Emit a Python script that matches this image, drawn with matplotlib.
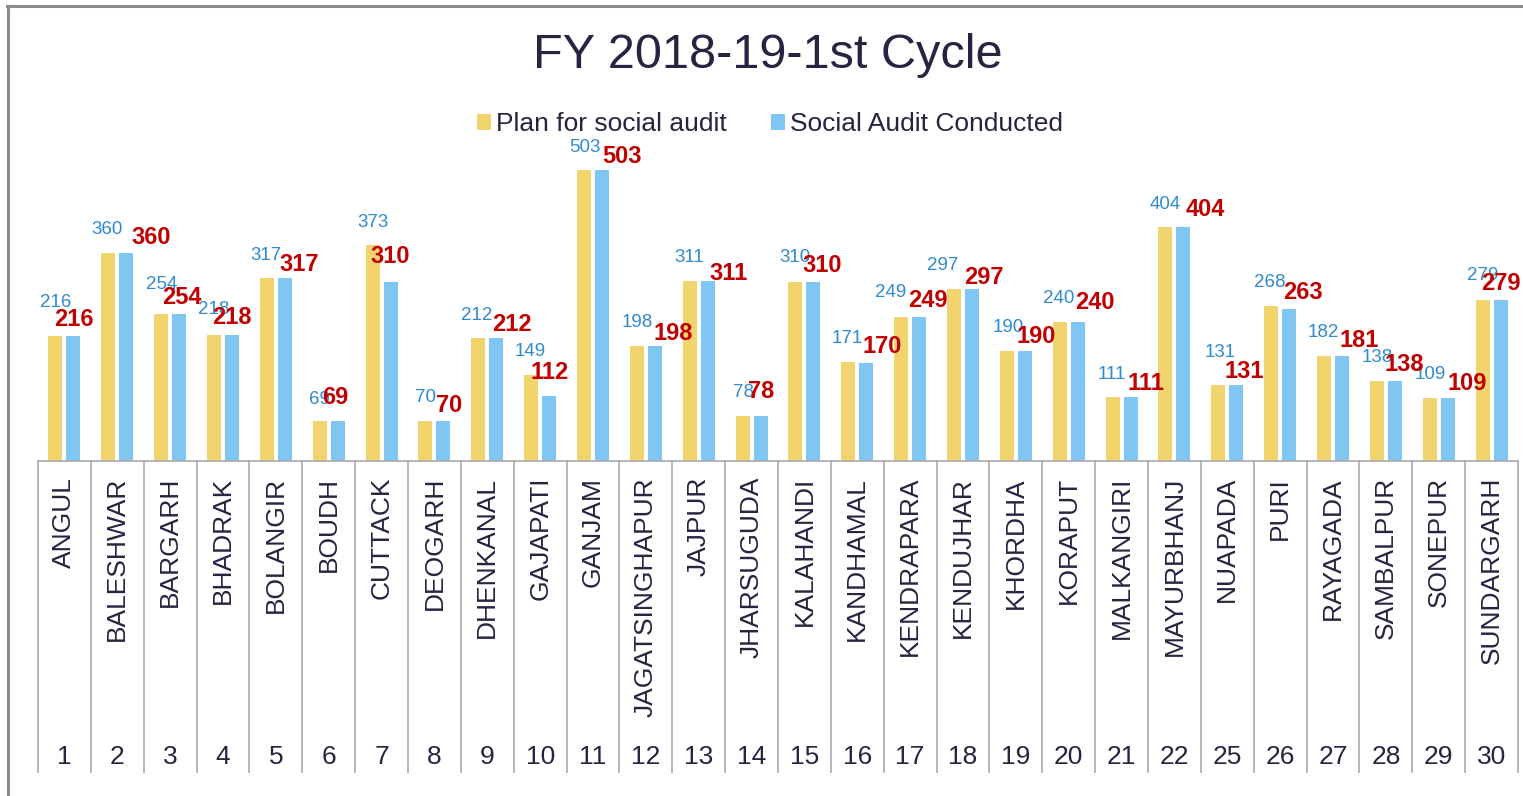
import matplotlib
matplotlib.use("Agg")
import matplotlib.pyplot as plt
from matplotlib.lines import Line2D

plt.rcParams["font.family"] = ["Liberation Sans", "DejaVu Sans"]

# data
districts = [
    "ANGUL", "BALESHWAR", "BARGARH", "BHADRAK", "BOLANGIR", "BOUDH", "CUTTACK",
    "DEOGARH", "DHENKANAL", "GAJAPATI", "GANJAM", "JAGATSINGHAPUR", "JAJPUR",
    "JHARSUGUDA", "KALAHANDI", "KANDHAMAL", "KENDRAPARA", "KENDUJHAR", "KHORDHA",
    "KORAPUT", "MALKANGIRI", "MAYURBHANJ", "NUAPADA", "PURI", "RAYAGADA",
    "SAMBALPUR", "SONEPUR", "SUNDARGARH",
]
serial_no = [1, 2, 3, 4, 5, 6, 7, 8, 9, 10, 11, 12, 13, 14, 15, 16, 17, 18, 19,
             20, 21, 22, 25, 26, 27, 28, 29, 30]
plan = [216, 360, 254, 218, 317, 69, 373, 70, 212, 149, 503, 198, 311, 78, 310,
        171, 249, 297, 190, 240, 111, 404, 131, 268, 182, 138, 109, 279]
conducted = [216, 360, 254, 218, 317, 69, 310, 70, 212, 112, 503, 198, 311, 78,
             310, 170, 249, 297, 190, 240, 111, 404, 131, 263, 181, 138, 109, 279]

# hand-placed data labels in the original (pixel nudges: dx, dy above bar top)
plan_lbl_nudge = [(0, 34), (-1, 23), (1, 30), (0, 25), (-1, 22), (0, 22), (0, 23),
                  (0, 23), (-2, 23), (-1, 23), (1, 22), (0, 24), (-1, 24), (1, 23),
                  (0, 24), (-1, 24), (-11, 24), (-11, 24), (1, 24), (-1, 24),
                  (-1, 22), (0, 23), (2, 33), (-1, 23), (-1, 23), (0, 24),
                  (1, 23), (0, 24)]
done_lbl_nudge = [(0, 17), (25, 15), (3, 17), (0, 17), (14, 13), (-2, 24), (0, 25),
                  (6, 15), (16, 14), (0, 24), (20, 13), (18, 13), (21, 8), (1, 24),
                  (9, 16), (16, 16), (9, 16), (12, 12), (11, 15), (17, 20),
                  (15, 13), (22, 18), (8, 14), (14, 16), (17, 16), (9, 17),
                  (19, 14), (0, 16)]

YELLOW = "#F2D46E"
BLUE = "#7FC6F2"
NAVY = "#262440"
LBL_BLUE = "#2F8AD0"
LBL_RED = "#C00000"
GRID = "#A8A8AE"

W, H = 1523, 796
fig = plt.figure(figsize=(W / 100, H / 100), dpi=100)

# plot area in pixels
ax_left, ax_right, ax_base = 38, 1518, 461
ymax = 560
ax_h_px = 324
ax = fig.add_axes([ax_left / W, (H - ax_base) / H,
                   (ax_right - ax_left) / W, ax_h_px / H])

n = len(districts)
x = list(range(n))
off, bw = 0.17, 0.265
b1 = ax.bar([i - off for i in x], plan, width=bw, color=YELLOW,
            label="Plan for social audit", zorder=2)
b2 = ax.bar([i + off for i in x], conducted, width=bw, color=BLUE,
            label="Social Audit Conducted", zorder=2)

for i in x:
    ax.annotate(str(plan[i]), (i - off, plan[i]), xytext=plan_lbl_nudge[i],
                textcoords="offset pixels", ha="center", va="center",
                fontsize=13.5, color=LBL_BLUE, zorder=4)
    ax.annotate(str(conducted[i]), (i + off, conducted[i]), xytext=done_lbl_nudge[i],
                textcoords="offset pixels", ha="center", va="center",
                fontsize=17, fontweight="bold", color=LBL_RED, zorder=5)

ax.set_xlim(-0.5, n - 0.5)
ax.set_ylim(0, ymax)
for s in ["top", "right", "left"]:
    ax.spines[s].set_visible(False)
ax.spines["bottom"].set_color(GRID)
ax.spines["bottom"].set_linewidth(1.2)
ax.set_xticks([])
ax.set_yticks([])

# two-level category axis: names + serial numbers, separated by vertical lines
sep_frac = -311 / ax_h_px
trans = ax.get_xaxis_transform()
for k in range(n + 1):
    ax.plot([k - 0.5, k - 0.5], [0, sep_frac], transform=trans, color=GRID,
            lw=1.2, clip_on=False)
for i in x:
    ax.annotate(districts[i], (i, 0), xytext=(0, -16), textcoords="offset pixels",
                ha="center", va="top", rotation=90, fontsize=19, color=NAVY)
    ax.annotate(str(serial_no[i]), (i, 0), xytext=(0, -296),
                textcoords="offset pixels", ha="center", va="center",
                fontsize=19, color=NAVY)

fig.text(768 / W, 1 - 56 / H, "FY 2018-19-1st Cycle", ha="center", va="center",
         fontsize=35, color=NAVY)

fig.legend(handles=[b1, b2], loc="center", bbox_to_anchor=(770 / W, 1 - 124 / H),
           ncol=2, frameon=False, fontsize=19, handlelength=0.55,
           handleheight=0.55, handletextpad=0.2, columnspacing=1.65,
           labelcolor=NAVY)

# outer chart border (top and left visible)
fig.add_artist(Line2D([7 / W, 1.0], [1 - 6 / H, 1 - 6 / H], color="#8C8C8C", lw=2.2))
fig.add_artist(Line2D([8 / W, 8 / W], [0, 1 - 6 / H], color="#8C8C8C", lw=2.2))

fig.savefig("out.png", dpi=100)
